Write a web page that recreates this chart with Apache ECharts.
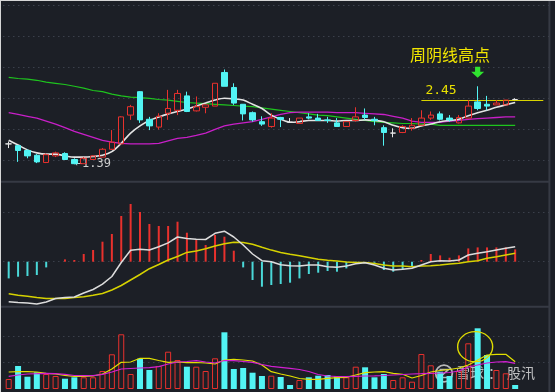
<!DOCTYPE html>
<html><head><meta charset="utf-8">
<script src="https://cdn.jsdelivr.net/npm/echarts@6/dist/echarts.min.js"></script>
<style>html,body{margin:0;padding:0;background:#1c1f26;}#c{width:555px;height:392px;}</style>
</head><body><div id="c"></div>
<script>
// ---- data (weekly K-line) ----
const weeks = Array.from({length: 58}, (_, i) => 'W' + (i + 1));
const opens  = [1.73,1.70,1.62,1.54,1.42,1.53,1.57,1.47,1.40,1.47,1.51,1.64,1.73,2.21,2.60,2.14,2.01,2.24,2.29,2.53,2.28,2.34,2.36,2.92,2.67,2.39,2.25,2.10,2.02,2.17,2.09,2.07,2.18,2.16,2.13,2.08,2.02,2.12,2.21,2.14,2.00,1.91,1.92,1.99,2.04,2.16,2.23,2.16,2.08,2.16,2.43,2.39,2.38,2.38,2.47];
const closes = [1.73,1.62,1.53,1.43,1.55,1.58,1.47,1.40,1.49,1.53,1.64,1.76,2.18,2.35,2.13,2.03,2.19,2.32,2.57,2.27,2.35,2.38,2.74,2.69,2.41,2.23,2.13,2.06,2.16,2.14,2.09,2.16,2.16,2.12,2.12,2.02,2.10,2.18,2.17,2.12,1.92,1.91,2.02,2.04,2.16,2.21,2.14,2.13,2.17,2.36,2.32,2.36,2.41,2.46,2.47];
const highs  = [1.77,1.71,1.64,1.56,1.57,1.60,1.59,1.49,1.51,1.54,1.66,1.96,2.19,2.38,2.61,2.18,2.24,2.63,2.63,2.60,2.52,2.38,2.74,2.97,2.74,2.39,2.27,2.19,2.24,2.18,2.16,2.16,2.24,2.23,2.18,2.16,2.10,2.34,2.32,2.18,2.04,1.99,2.04,2.16,2.29,2.27,2.27,2.21,2.21,2.46,2.69,2.53,2.46,2.46,2.49];
const lows   = [1.66,1.43,1.49,1.41,1.41,1.51,1.46,1.39,1.40,1.47,1.51,1.63,1.73,2.13,2.08,1.96,1.97,2.13,2.21,2.26,2.27,2.24,2.36,2.69,2.38,2.12,2.10,2.03,2.00,2.01,2.08,2.07,2.14,2.12,2.08,2.02,2.02,2.10,2.13,2.04,1.70,1.84,1.91,1.95,2.04,2.13,2.12,2.10,2.07,2.16,2.29,2.29,2.38,2.38,2.46];
const maWhite   = [1.79,1.71,1.63,1.58,1.56,1.56,1.53,1.51,1.51,1.52,1.54,1.60,1.74,1.91,2.03,2.12,2.18,2.23,2.27,2.31,2.36,2.41,2.46,2.49,2.48,2.46,2.39,2.32,2.21,2.14,2.09,2.10,2.12,2.12,2.12,2.11,2.12,2.12,2.13,2.12,2.10,2.04,2.00,1.99,2.03,2.06,2.10,2.12,2.14,2.20,2.25,2.29,2.34,2.38,2.42];
const maGreen   = [2.84,2.82,2.81,2.79,2.76,2.74,2.72,2.69,2.66,2.62,2.60,2.56,2.53,2.51,2.50,2.49,2.47,2.46,2.44,2.42,2.41,2.40,2.39,2.38,2.37,2.36,2.35,2.33,2.31,2.29,2.27,2.25,2.23,2.21,2.20,2.18,2.16,2.14,2.12,2.10,2.09,2.08,2.07,2.07,2.06,2.06,2.04,2.04,2.04,2.04,2.04,2.04,2.04,2.04,2.04];
const maMagenta = [2.25,2.22,2.19,2.16,2.11,2.06,2.00,1.94,1.89,1.84,1.79,1.76,1.74,1.73,1.73,1.73,1.74,1.78,1.82,1.84,1.87,1.91,1.97,2.03,2.06,2.08,2.10,2.14,2.18,2.22,2.25,2.26,2.26,2.26,2.26,2.25,2.25,2.25,2.24,2.23,2.22,2.19,2.16,2.11,2.09,2.09,2.09,2.11,2.12,2.14,2.15,2.16,2.17,2.18,2.18];
const highLevel = 2.45;
// MACD
const dif  = [-0.0400,-0.0408,-0.0413,-0.0423,-0.0403,-0.0368,-0.0358,-0.0353,-0.0313,-0.0278,-0.0225,-0.0148,-0.0008,0.0115,0.0125,0.0117,0.0150,0.0188,0.0247,0.0232,0.0224,0.0222,0.0284,0.0305,0.0247,0.0167,0.0077,0.0010,0.0000,-0.0031,-0.0040,-0.0043,-0.0033,-0.0033,-0.0050,-0.0056,-0.0043,-0.0020,-0.0011,-0.0033,-0.0066,-0.0083,-0.0076,-0.0066,-0.0033,0.0000,0.0010,0.0007,0.0017,0.0067,0.0084,0.0100,0.0117,0.0134,0.0150];
const dea  = [-0.0321,-0.0335,-0.0346,-0.0358,-0.0367,-0.0369,-0.0367,-0.0359,-0.0350,-0.0335,-0.0318,-0.0283,-0.0238,-0.0183,-0.0128,-0.0070,-0.0028,0.0017,0.0052,0.0093,0.0108,0.0129,0.0157,0.0179,0.0195,0.0193,0.0174,0.0144,0.0116,0.0093,0.0075,0.0060,0.0042,0.0024,0.0014,0.0006,-0.0002,-0.0007,-0.0009,-0.0018,-0.0033,-0.0043,-0.0043,-0.0050,-0.0043,-0.0040,-0.0033,-0.0023,-0.0016,0.0000,0.0010,0.0034,0.0050,0.0067,0.0084];
const macd = [-0.0167,-0.0150,-0.0143,-0.0133,-0.0057,0,0.0023,0.0017,0.0077,0.0117,0.0200,0.0277,0.0457,0.0577,0.0497,0.0377,0.0357,0.0357,0.0400,0.0290,0.0217,0.0167,0.0267,0.0250,0.0110,-0.0057,-0.0183,-0.0250,-0.0233,-0.0223,-0.0210,-0.0167,-0.0123,-0.0110,-0.0093,-0.0100,-0.0067,-0.0010,0,-0.0010,-0.0083,-0.0100,-0.0077,-0.0050,0.0017,0.0077,0.0063,0.0040,0.0063,0.0133,0.0143,0.0143,0.0143,0.0143,0.0123];
// Volume
const volume = [10,23,12.3,16.7,15,13,10.3,11.7,11.7,11.7,18,34.7,54.7,15,30.3,19,23,37.3,29,22.3,22.3,18,30.7,56.7,20,21,16.3,13,13.3,12,4,9,11.7,13.3,14,12.7,11.7,22.3,21.7,11.7,15,9,11.7,7.3,35,23.7,17.3,13,18.3,45.7,60.7,34,19,15.7,4];
const volDir = [1,-1,-1,-1,1,1,-1,-1,1,1,1,1,1,1,-1,-1,1,1,1,-1,1,1,1,-1,-1,-1,-1,-1,1,-1,-1,1,-1,-1,-1,-1,1,1,-1,-1,-1,1,1,1,1,1,-1,-1,1,1,-1,-1,1,1,-1];
const volMa5  = [17,17.3,17.3,17,15.7,15,13.7,12.5,12.5,13,15,20,26.7,27,30.7,30.7,28.5,26.7,27,26.3,26.5,26,25,29,29.7,29,28,24,17.3,15,13,10.5,9.7,9.7,10.7,11.3,11.7,14,16.3,17,17.3,15.7,14.7,11,13.5,17,18.5,19.5,21,24,29,34,34.7,34.7,27.3];
const volMa10 = [12.7,14,15,15.3,15.7,15.3,14.7,13.5,13.3,13.3,14.7,17,20,20.5,21,21.3,22.3,25,27,27.5,28.3,27,26,28.5,28.3,27.5,26.7,24.5,22.7,21.7,20.7,19.5,17.5,14.5,13,12.5,12.3,12.7,13,13.2,13.5,14,14.5,15,15.3,15.7,16,16.5,18,22,24,26,27,27.3,25.7];

const BG = '#1c1f26', RED = '#e8312d', CYAN = '#52f4f4', GRIDC = '#3b404b', SEP = '#363a44';
const chart = echarts.init(document.getElementById('c'), null, {renderer: 'canvas'});

const catX = (g) => ({type: 'category', data: weeks, gridIndex: g, boundaryGap: true, show: false});
const helperX = (g) => ({type: 'value', gridIndex: g, min: 0, max: 1, show: false});
const helperY = (g, n) => ({type: 'value', gridIndex: g, min: 0, max: n, interval: 1,
  axisLine: {show: false}, axisTick: {show: false}, axisLabel: {show: false},
  splitLine: {show: true, lineStyle: {color: GRIDC, width: 1.2, type: [1.5, 3.5]}}});

const option = {
  backgroundColor: BG,
  animation: false,
  grid: [
    {left: 4, width: 544, top: 0, height: 180},
    {left: 4, width: 544, top: 183, height: 122},
    {left: 4, width: 544, top: 309, height: 80},
    {left: 3, width: 546, top: 5, height: 155},
    {left: 3, width: 546, top: 212.7, height: 49},
    {left: 3, width: 546, top: 336, height: 26}
  ],
  xAxis: [catX(0), catX(1), catX(2), helperX(3), helperX(4), helperX(5)],
  yAxis: [
    {type: 'value', gridIndex: 0, min: 1.128, max: 4.128, show: false},
    {type: 'value', gridIndex: 1, min: -0.0433, max: 0.0787, show: false},
    {type: 'value', gridIndex: 2, min: 0, max: 80, show: false},
    helperY(3, 5), helperY(4, 1), helperY(5, 1)
  ],
  series: [
    {type: 'line', xAxisIndex: 0, yAxisIndex: 0, data: maGreen, symbol: 'none', z: 2,
      lineStyle: {color: '#1ec41e', width: 1.2}},
    {type: 'line', xAxisIndex: 0, yAxisIndex: 0, data: maMagenta, symbol: 'none', z: 2,
      lineStyle: {color: '#c81fc8', width: 1.3}},
    {type: 'line', xAxisIndex: 0, yAxisIndex: 0, data: maWhite, symbol: 'none', smooth: 0.3, z: 3,
      lineStyle: {color: '#e4e4e4', width: 1.6}},
    {type: 'candlestick', xAxisIndex: 0, yAxisIndex: 0, z: 5, barWidth: 6,
      data: opens.map((o, i) => [o, closes[i], lows[i], highs[i]]),
      itemStyle: {color: 'transparent', color0: CYAN, borderColor: RED, borderColor0: CYAN,
        borderColorDoji: '#e6e6e6', borderWidth: 1},
      markPoint: {
        silent: true, animation: false,
        data: [
          {coord: [7, lows[7]], symbol: 'circle', symbolSize: 1, itemStyle: {color: 'transparent'},
            label: {show: true, position: 'right', distance: 0, formatter: '←' + lows[7].toFixed(2),
              color: '#cfcfcf', fontFamily: 'DejaVu Sans Mono', fontSize: 12}},
          {coord: [50, highs[50]], symbol: 'path://M3,0 L7,0 L7,4.5 L10,4.5 L5,10 L0,4.5 L3,4.5 Z',
            symbolSize: [13, 11], symbolOffset: [0, -14], itemStyle: {color: '#2fe32f'},
            label: {show: false}}
        ]
      },
      markLine: {
        silent: true, symbol: 'none', animation: false,
        lineStyle: {color: '#d9d400', width: 1, type: 'solid'},
        label: {show: true, position: 'insideStartTop', distance: 4, formatter: highLevel.toFixed(2),
          color: '#e8e000', fontFamily: 'DejaVu Sans Mono', fontSize: 13},
        data: [[{coord: [44, highLevel]}, {coord: [57, highLevel]}]]
      }
    },
    {type: 'bar', xAxisIndex: 1, yAxisIndex: 1, data: macd, barWidth: 2, z: 2,
      itemStyle: {color: (p) => p.value >= 0 ? RED : '#4ad8d8'}},
    {type: 'line', xAxisIndex: 1, yAxisIndex: 1, data: dea, symbol: 'none', z: 3,
      lineStyle: {color: '#d6d200', width: 1.5}},
    {type: 'line', xAxisIndex: 1, yAxisIndex: 1, data: dif, symbol: 'none', z: 4,
      lineStyle: {color: '#dcdcdc', width: 1.5}},
    {type: 'bar', xAxisIndex: 2, yAxisIndex: 2, barWidth: 6, z: 2,
      data: volume.map((v, i) => ({value: v, itemStyle: volDir[i] > 0
        ? {color: 'transparent', borderColor: RED, borderWidth: 1}
        : {color: CYAN, borderColor: CYAN, borderWidth: 0}})),
      markPoint: {
        silent: true, animation: false,
        data: [{coord: [50, 42.3], symbol: 'circle', symbolSize: [35, 30], symbolOffset: [-2.5, 0],
          itemStyle: {color: 'transparent', borderColor: '#e0dc00', borderWidth: 1.3},
          label: {show: false}}]
      }
    },
    {type: 'line', xAxisIndex: 2, yAxisIndex: 2, data: volMa5, symbol: 'none', z: 3,
      lineStyle: {color: '#e2e000', width: 1.2}},
    {type: 'line', xAxisIndex: 2, yAxisIndex: 2, data: volMa10, symbol: 'none', z: 3,
      lineStyle: {color: '#d21fd2', width: 1.2}}
  ],
  graphic: [
    {type: 'rect', silent: true, z: 0, shape: {x: 0, y: 180.8, width: 549, height: 2}, style: {fill: SEP}},
    {type: 'rect', silent: true, z: 0, shape: {x: 0, y: 305.8, width: 549, height: 2}, style: {fill: SEP}},
    {type: 'rect', silent: true, z: 0, shape: {x: 548.4, y: 0, width: 2, height: 392}, style: {fill: SEP}},
    {type: 'rect', silent: true, z: 10, shape: {x: 0, y: 0, width: 555, height: 1}, style: {fill: '#d6d6d6'}},
    {type: 'rect', silent: true, z: 10, shape: {x: 0, y: 0, width: 1, height: 392}, style: {fill: '#d6d6d6'}},
    {type: 'text', silent: true, z: 10, left: 410, top: 47,
      style: {text: '周阴线高点', fill: '#f2e600', font: '16px "Noto Sans CJK SC"'}},
    {type: 'group', silent: true, z: 20, children: [
      {type: 'circle', shape: {cx: 444, cy: 373.5, r: 8.3}, style: {fill: 'none', stroke: 'rgba(235,235,235,0.75)', lineWidth: 1.8}},
      {type: 'polyline', shape: {points: [[439.5, 369.5], [448.5, 369.5], [439.5, 377.5], [448.5, 377.5]]},
        style: {fill: 'none', stroke: 'rgba(235,235,235,0.75)', lineWidth: 1.6}},
      {type: 'text', x: 456, y: 366, style: {text: '雪球', fill: 'rgba(235,235,235,0.78)', font: '14px "Noto Sans CJK SC"'}},
      {type: 'text', x: 488, y: 366, style: {text: '：', fill: 'rgba(235,235,235,0.78)', font: '14px "Noto Sans CJK SC"'}},
      {type: 'text', x: 507, y: 366, style: {text: '股汛', fill: 'rgba(235,235,235,0.78)', font: '14px "Noto Sans CJK SC"'}}
    ]}
  ]
};
chart.setOption(option);
</script>
</body></html>
